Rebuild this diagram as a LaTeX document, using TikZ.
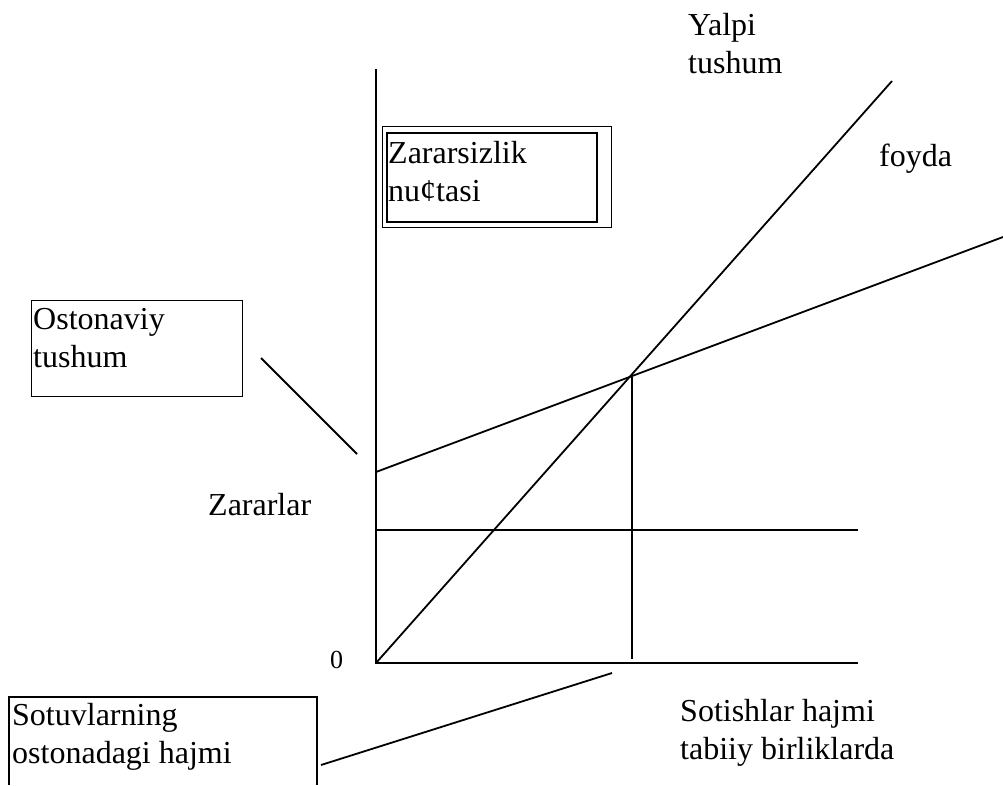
\documentclass[tikz,border=0pt]{standalone}
\usepackage{fontspec}
\setmainfont{Liberation Serif}
\begin{document}
\begin{tikzpicture}[x=1pt,y=-1pt,
  lbl/.style={anchor=base west,inner sep=0pt,font=\fontsize{32}{38}\selectfont},
  small/.style={anchor=base west,inner sep=0pt,font=\fontsize{26}{30}\selectfont},
  frame/.style={draw,line width=1.2pt,anchor=north west,inner sep=0pt},
  axis/.style={line width=2.2pt},
  graph/.style={line width=1.8pt},
  thin/.style={line width=1.3pt}]
\useasboundingbox (0,0) rectangle (1003,785);

% axes
\coordinate (O) at (376,663);
\coordinate (ytop) at (376,69);
\coordinate (xend) at (858,663);
\draw[axis] (ytop) -- (O) -- (xend);

% fixed costs, total costs, gross revenue
\coordinate (fc0) at (376,530);
\coordinate (fc1) at (858,530);
\draw[graph] (fc0) -- (fc1);
\coordinate (tc0) at (376,472);
\coordinate (tc1) at (1003,237);
\draw[graph] (tc0) -- (tc1);
\coordinate (rv1) at (892,81);
\draw[graph] (O) -- (rv1);

% break-even volume
\coordinate (be) at (632,377);
\coordinate (befoot) at (632,659);
\draw[thin] (be) -- (befoot);

% break-even point label (double frame)
\node[frame,minimum width=229pt,minimum height=101pt] (zbox) at (382,126) {};
\node[frame,line width=2.2pt,minimum width=210pt,minimum height=89pt] (zinner) at (386,132) {};
\node[lbl] (ztext) at (388,163) {\begin{tabular}[t]{@{}l@{}}Zararsizlik\\nu¢tasi\end{tabular}};

% threshold revenue
\node[frame,minimum width=211pt,minimum height=96pt] (obox) at (31,300) {};
\node[lbl] (otext) at (33,329) {\begin{tabular}[t]{@{}l@{}}Ostonaviy\\tushum\end{tabular}};
\coordinate (op0) at (261,358);
\coordinate (op1) at (357,454);
\draw[graph] (op0) -- (op1);

% threshold sales volume
\coordinate (sb0) at (9,785);
\coordinate (sb1) at (317,697);
\coordinate (sb2) at (317,785);
\draw[frame] (sb0) |- (sb1) -- (sb2);
\node[lbl] (stext) at (12,725) {\begin{tabular}[t]{@{}l@{}}Sotuvlarning\\ostonadagi hajmi\end{tabular}};
\coordinate (sp0) at (321,765);
\coordinate (sp1) at (612,673);
\draw[graph] (sp0) -- (sp1);

% remaining labels
\node[lbl] (yalpi) at (688,35) {\begin{tabular}[t]{@{}l@{}}Yalpi\\tushum\end{tabular}};
\node[lbl] (foyda) at (879,166) {foyda};
\node[lbl] (zarar) at (208,515) {Zararlar};
\node[small] (zero) at (330,668) {0};
\node[lbl] (sotish) at (680,721) {\begin{tabular}[t]{@{}l@{}}Sotishlar hajmi\\tabiiy birliklarda\end{tabular}};
\end{tikzpicture}
\end{document}
